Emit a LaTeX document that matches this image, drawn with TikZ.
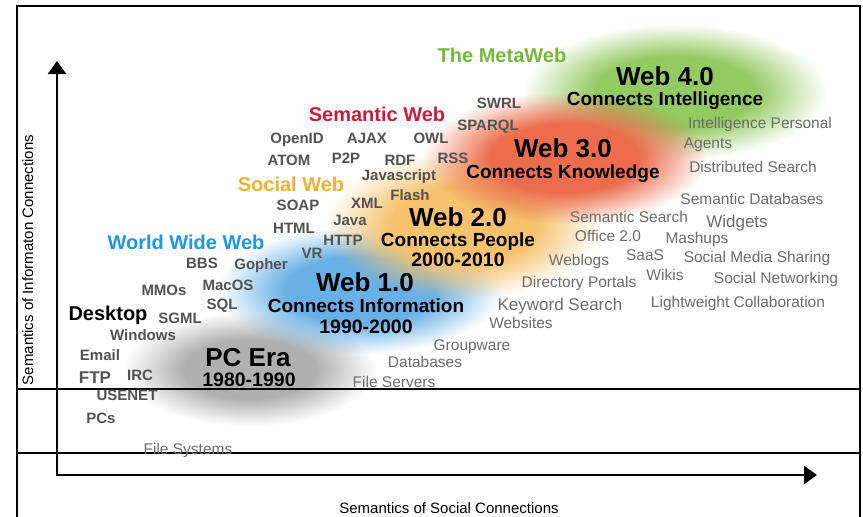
\documentclass[tikz,border=0pt]{standalone}
\usepackage{fontspec}
\setmainfont{Liberation Sans}
\usepackage{tikz}
\usetikzlibrary{
    arrows.meta,
    fadings
}
\definecolor{metagreen}{RGB}{118,184,58}
\definecolor{semred}{RGB}{205,28,56}
\definecolor{socorange}{RGB}{240,176,52}
\definecolor{wwwblue}{RGB}{28,150,230}
\definecolor{techgray}{RGB}{82,82,82}
\definecolor{appgray}{RGB}{108,108,108}
\definecolor{pcblob}{RGB}{176,176,176}
\definecolor{webIblob}{RGB}{104,176,230}
\definecolor{webIIblob}{RGB}{246,194,110}
\definecolor{webIIIblob}{RGB}{236,108,76}
\definecolor{webIVblob}{RGB}{148,202,98}
% soft edge for the era clouds
\pgfdeclareradialshading{blob shade}{\pgfpointorigin}{color(0bp)=(white); color(13bp)=(white); color(25bp)=(black); color(50bp)=(black)}
\pgfdeclarefading{blob fade}{\pgfuseshading{blob shade}}
\tikzset{
    % Frame and axes
    frame line/.style={black,line width=1.6pt},
    axis tip/.tip={Triangle[length=13pt,width=18pt]},
    axis arr/.style={-{axis tip},line width=2.6pt,black},
    axis label/.style={font=\fontsize{15}{15}\selectfont,anchor=base},
    %
    % Clouds
    blob/.style={fill=#1,path fading=blob fade},
    %
    % Labels
    era title/.style={font=\bfseries\fontsize{26}{26}\selectfont,anchor=base},
    era sub/.style={font=\bfseries\fontsize{19}{19}\selectfont,anchor=base},
    era date/.style={font=\bfseries\fontsize{19.5}{19.5}\selectfont,anchor=base},
    web name/.style={font=\bfseries\fontsize{20}{20}\selectfont,anchor=base,text=#1},
    tech/.style={font=\bfseries\fontsize{15}{15}\selectfont,anchor=base,text=techgray},
    app/.style={font=\fontsize{15.5}{15.5}\selectfont,anchor=base,text=appgray},
    big app/.style={app,font=\fontsize{17}{17}\selectfont}
}
\tikzstyle{every node}=[inner sep=0pt,outer sep=0pt]

\begin{document}
\begin{tikzpicture}[x=1pt,y=-1pt]
    \useasboundingbox (0,0) rectangle (863,517);
    % clouds
    \fill[blob=pcblob] (250,369) ellipse [x radius=126, y radius=57];
    \fill[blob=webIblob] (360,290) ellipse [x radius=142, y radius=64];
    \fill[blob=webIIblob] (463,225) ellipse [x radius=138, y radius=74];
    \fill[blob=webIVblob] (675,92) ellipse [x radius=152, y radius=68];
    \fill[blob=webIIIblob] (565,158) ellipse [x radius=142, y radius=66];

    % frame
    \draw[frame line] (17,518) -- (17,6) -- (860,6) -- (860,518);
    \draw[frame line] (17,389) -- (860,389) (17,453) -- (860,453);

    % axes
    \coordinate (origin) at (57,475);
    \coordinate (ytop) at (57,61);
    \coordinate (xend) at (817,475);
    \draw[axis arr] ([yshift=-1.3pt]origin) -- (ytop);
    \draw[axis arr] ([xshift=-1.3pt]origin) -- (xend);
    \node[axis label,rotate=90] (ylab) at (33,260) {Semantics of Informaton Connections};
    \node[axis label] (xlab) at (449,513) {Semantics of Social Connections};

    % eras
    \node[era title] (w4) at (665,85) {Web 4.0};
    \node[era sub] (w4s) at (665,105) {Connects Intelligence};
    \node[era title] (w3) at (563,157) {Web 3.0};
    \node[era sub] (w3s) at (563,178) {Connects Knowledge};
    \node[era title] (w2) at (458,226) {Web 2.0};
    \node[era sub] (w2s) at (458,246) {Connects People};
    \node[era date] (w2d) at (458,266) {2000-2010};
    \node[era title] (w1) at (365,291) {Web 1.0};
    \node[era sub] (w1s) at (366,312) {Connects Information};
    \node[era date] (w1d) at (366,333) {1990-2000};
    \node[era title] (pc) at (248,366) {PC Era};
    \node[era date] (pcd) at (249,386) {1980-1990};

    % web names
    \node[web name=metagreen] (meta) at (502,62) {The MetaWeb};
    \node[web name=semred] (sem) at (377,121) {Semantic Web};
    \node[web name=socorange] (soc) at (291,191) {Social Web};
    \node[web name=wwwblue] (www) at (186,249) {World Wide Web};
    \node[web name=black] (desk) at (108,320) {Desktop};

    % technologies
    \node[tech] (swrl) at (499,108) {SWRL};
    \node[tech] (sparql) at (488,130) {SPARQL};
    \node[tech] (openid) at (297,143) {OpenID};
    \node[tech] (ajax) at (367,143) {AJAX};
    \node[tech] (owl) at (431,143) {OWL};
    \node[tech] (atom) at (289,165) {ATOM};
    \node[tech] (ptp) at (346,163) {P2P};
    \node[tech] (rdf) at (400,165) {RDF};
    \node[tech] (rss) at (453,163) {RSS};
    \node[tech] (js) at (399,180) {Javascript};
    \node[tech] (flash) at (410,200) {Flash};
    \node[tech] (soap) at (298,210) {SOAP};
    \node[tech] (xml) at (367,208) {XML};
    \node[tech] (java) at (350,225) {Java};
    \node[tech] (html) at (294,233) {HTML};
    \node[tech] (http) at (343,245) {HTTP};
    \node[tech] (vr) at (312,258) {VR};
    \node[tech] (bbs) at (202,268) {BBS};
    \node[tech] (gopher) at (261,269) {Gopher};
    \node[tech] (macos) at (228,290) {MacOS};
    \node[tech] (mmos) at (164,295) {MMOs};
    \node[tech] (sql) at (222,309) {SQL};
    \node[tech] (sgml) at (180,323) {SGML};
    \node[tech] (win) at (143,340) {Windows};
    \node[tech] (email) at (100,360) {Email};
    \node[tech,font=\bfseries\fontsize{17}{17}\selectfont] (ftp) at (95,383) {FTP};
    \node[tech] (irc) at (140,380) {IRC};
    \node[tech] (usenet) at (127,400) {USENET};
    \node[tech] (pcs) at (101,423) {PCs};

    % applications
    \node[app] (ipa) at (760,128) {Intelligence Personal};
    \node[app] (agents) at (708,148) {Agents};
    \node[app] (dsearch) at (753,172) {Distributed Search};
    \node[app] (sdb) at (752,204) {Semantic Databases};
    \node[app] (ssearch) at (629,222) {Semantic Search};
    \node[big app] (widgets) at (737,227) {Widgets};
    \node[app] (office) at (608,241) {Office 2.0};
    \node[app] (mash) at (697,243) {Mashups};
    \node[app] (saas) at (645,260) {SaaS};
    \node[app] (smedia) at (757,262) {Social Media Sharing};
    \node[app] (weblogs) at (579,265) {Weblogs};
    \node[app] (wikis) at (665,280) {Wikis};
    \node[app] (snet) at (776,283) {Social Networking};
    \node[app] (dport) at (579,287) {Directory Portals};
    \node[app] (lwc) at (738,307) {Lightweight Collaboration};
    \node[big app] (kws) at (560,310) {Keyword Search};
    \node[app] (websites) at (521,328) {Websites};
    \node[app] (group) at (472,350) {Groupware};
    \node[app] (dbs) at (425,367) {Databases};
    \node[app] (fserv) at (394,387) {File Servers};
    \node[app] (fsys) at (188,454) {File Systems};
\end{tikzpicture}
\end{document}
